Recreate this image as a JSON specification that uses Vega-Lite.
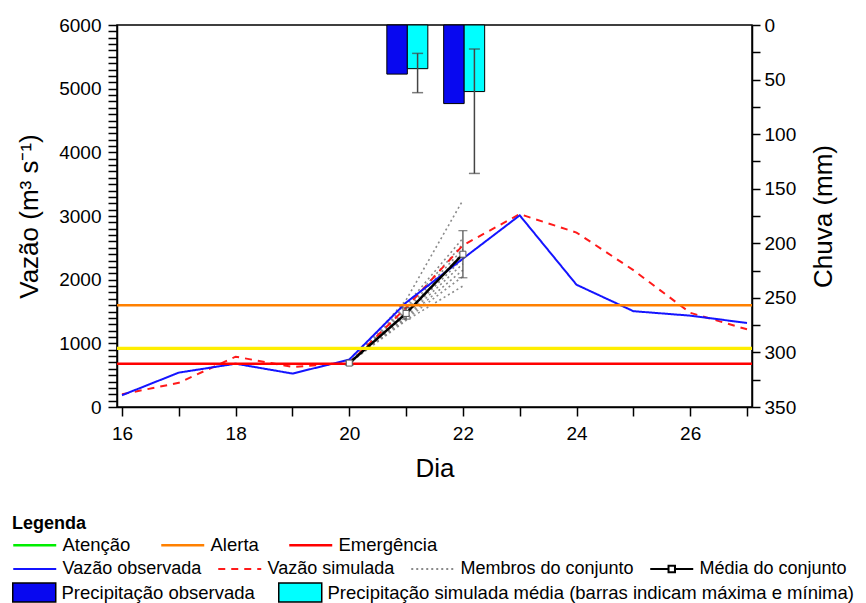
{
  "$schema": "https://vega.github.io/schema/vega-lite/v6.json",
  "width": 635,
  "height": 382,
  "autosize": {"type": "none"},
  "padding": {"left": 117, "top": 25, "right": 114, "bottom": 196},
  "background": "white",
  "datasets": {
    "vazao": [
      {"serie": "Membros do conjunto", "membro": "m1", "dia": 20, "v": 690},
      {"serie": "Membros do conjunto", "membro": "m1", "dia": 21, "v": 1680},
      {"serie": "Membros do conjunto", "membro": "m1", "dia": 22, "v": 3250},
      {"serie": "Membros do conjunto", "membro": "m2", "dia": 20, "v": 690},
      {"serie": "Membros do conjunto", "membro": "m2", "dia": 21, "v": 1600},
      {"serie": "Membros do conjunto", "membro": "m2", "dia": 22, "v": 2650},
      {"serie": "Membros do conjunto", "membro": "m3", "dia": 20, "v": 690},
      {"serie": "Membros do conjunto", "membro": "m3", "dia": 21, "v": 1560},
      {"serie": "Membros do conjunto", "membro": "m3", "dia": 22, "v": 2560},
      {"serie": "Membros do conjunto", "membro": "m4", "dia": 20, "v": 690},
      {"serie": "Membros do conjunto", "membro": "m4", "dia": 21, "v": 1520},
      {"serie": "Membros do conjunto", "membro": "m4", "dia": 22, "v": 2480},
      {"serie": "Membros do conjunto", "membro": "m5", "dia": 20, "v": 690},
      {"serie": "Membros do conjunto", "membro": "m5", "dia": 21, "v": 1480},
      {"serie": "Membros do conjunto", "membro": "m5", "dia": 22, "v": 2420},
      {"serie": "Membros do conjunto", "membro": "m6", "dia": 20, "v": 690},
      {"serie": "Membros do conjunto", "membro": "m6", "dia": 21, "v": 1450},
      {"serie": "Membros do conjunto", "membro": "m6", "dia": 22, "v": 2330},
      {"serie": "Membros do conjunto", "membro": "m7", "dia": 20, "v": 690},
      {"serie": "Membros do conjunto", "membro": "m7", "dia": 21, "v": 1420},
      {"serie": "Membros do conjunto", "membro": "m7", "dia": 22, "v": 2250},
      {"serie": "Membros do conjunto", "membro": "m8", "dia": 20, "v": 690},
      {"serie": "Membros do conjunto", "membro": "m8", "dia": 21, "v": 1400},
      {"serie": "Membros do conjunto", "membro": "m8", "dia": 22, "v": 2150},
      {"serie": "Membros do conjunto", "membro": "m9", "dia": 20, "v": 690},
      {"serie": "Membros do conjunto", "membro": "m9", "dia": 21, "v": 1380},
      {"serie": "Membros do conjunto", "membro": "m9", "dia": 22, "v": 2050},
      {"serie": "Membros do conjunto", "membro": "m10", "dia": 20, "v": 690},
      {"serie": "Membros do conjunto", "membro": "m10", "dia": 21, "v": 1360},
      {"serie": "Membros do conjunto", "membro": "m10", "dia": 22, "v": 1900},
      {"serie": "Vazão simulada", "membro": "sim", "dia": 16, "v": 200},
      {"serie": "Vazão simulada", "membro": "sim", "dia": 17, "v": 380},
      {"serie": "Vazão simulada", "membro": "sim", "dia": 18, "v": 790},
      {"serie": "Vazão simulada", "membro": "sim", "dia": 19, "v": 630},
      {"serie": "Vazão simulada", "membro": "sim", "dia": 20, "v": 690},
      {"serie": "Vazão simulada", "membro": "sim", "dia": 21, "v": 1560},
      {"serie": "Vazão simulada", "membro": "sim", "dia": 22, "v": 2540},
      {"serie": "Vazão simulada", "membro": "sim", "dia": 23, "v": 3030},
      {"serie": "Vazão simulada", "membro": "sim", "dia": 24, "v": 2740},
      {"serie": "Vazão simulada", "membro": "sim", "dia": 25, "v": 2150},
      {"serie": "Vazão simulada", "membro": "sim", "dia": 26, "v": 1480},
      {"serie": "Vazão simulada", "membro": "sim", "dia": 27, "v": 1220},
      {"serie": "Vazão observada", "membro": "obs", "dia": 16, "v": 185},
      {"serie": "Vazão observada", "membro": "obs", "dia": 17, "v": 540},
      {"serie": "Vazão observada", "membro": "obs", "dia": 18, "v": 680},
      {"serie": "Vazão observada", "membro": "obs", "dia": 19, "v": 525},
      {"serie": "Vazão observada", "membro": "obs", "dia": 20, "v": 745},
      {"serie": "Vazão observada", "membro": "obs", "dia": 21, "v": 1640},
      {"serie": "Vazão observada", "membro": "obs", "dia": 22, "v": 2330},
      {"serie": "Vazão observada", "membro": "obs", "dia": 23, "v": 3010},
      {"serie": "Vazão observada", "membro": "obs", "dia": 24, "v": 1920},
      {"serie": "Vazão observada", "membro": "obs", "dia": 25, "v": 1505},
      {"serie": "Vazão observada", "membro": "obs", "dia": 26, "v": 1435},
      {"serie": "Vazão observada", "membro": "obs", "dia": 27, "v": 1320},
      {"serie": "Média do conjunto", "membro": "media", "dia": 20, "v": 690},
      {"serie": "Média do conjunto", "membro": "media", "dia": 21, "v": 1470},
      {"serie": "Média do conjunto", "membro": "media", "dia": 22, "v": 2400}
    ],
    "erro": [
      {"dia": 20, "lo": 660, "hi": 720},
      {"dia": 21, "lo": 1380, "hi": 1560},
      {"dia": 22, "lo": 2030, "hi": 2770}
    ],
    "limiares": [
      {"nome": "Atenção", "v": 920},
      {"nome": "Alerta", "v": 1600},
      {"nome": "Emergência", "v": 680}
    ],
    "chuva": [
      {"serie": "Precipitação observada", "dia": 21, "mm": 45},
      {"serie": "Precipitação observada", "dia": 22, "mm": 72},
      {"serie": "Precipitação simulada média (barras indicam máxima e mínima)", "dia": 21, "mm": 40, "min": 26, "max": 62},
      {"serie": "Precipitação simulada média (barras indicam máxima e mínima)", "dia": 22, "mm": 61, "min": 22, "max": 136}
    ]
  },
  "layer": [
    {
      "encoding": {
        "y": {
          "field": "v", "type": "quantitative", "title": "Vazão (m³ s⁻¹)",
          "scale": {"domain": [0, 6000], "nice": false, "zero": false},
          "axis": {
            "values": [0,100,200,300,400,500,600,700,800,900,1000,1100,1200,1300,1400,1500,1600,1700,1800,1900,2000,2100,2200,2300,2400,2500,2600,2700,2800,2900,3000,3100,3200,3300,3400,3500,3600,3700,3800,3900,4000,4100,4200,4300,4400,4500,4600,4700,4800,4900,5000,5100,5200,5300,5400,5500,5600,5700,5800,5900,6000],
            "labelExpr": "datum.value % 1000 === 0 ? datum.value : ''",
            "tickSize": 9, "labelPadding": 7, "titlePadding": 16, "labelFlush": false, "grid": false,
            "encode": {"ticks": {"update": {"x2": {"signal": "datum.value % 1000 === 0 ? -9 : -5"}}}}
          }
        }
      },
      "layer": [
        {
          "data": {"name": "vazao"},
          "encoding": {
            "x": {
              "field": "dia", "type": "quantitative", "title": "Dia",
              "scale": {"domain": [16, 27], "nice": false, "zero": false},
              "axis": {
                "values": [16, 17, 18, 19, 20, 21, 22, 23, 24, 25, 26, 27],
                "labelExpr": "datum.value % 2 === 0 ? datum.value : ''",
                "tickSize": 9, "labelPadding": 8, "titlePadding": 12, "labelFlush": false, "grid": false,
                "encode": {"ticks": {"update": {"y2": {"signal": "datum.value % 2 === 0 ? 9 : 6"}}}}
              }
            },
            "detail": {"field": "membro", "type": "nominal"},
            "color": {
              "field": "serie", "type": "nominal",
              "scale": {"domain": ["Vazão observada", "Vazão simulada", "Membros do conjunto", "Média do conjunto"], "range": ["#1414ff", "#ff1a1a", "#8a8a8a", "#000000"]},
              "legend": {
                "title": null, "orient": "none", "legendX": -105, "legendY": 532,
                "direction": "horizontal", "columnPadding": 12,
                "symbolType": "M-1,0H3", "symbolSize": 462, "symbolStrokeWidth": 2, "labelOffset": 26.5,
                "encode": {"symbols": {"update": {"fill": {"value": "white"}, "shape": {"signal": "datum.value === 'Média do conjunto' ? 'M-1,0H0.7M1.3,0H3M0.7,-0.3H1.3V0.3H0.7Z' : 'M-1,0H3'"}}}}
              }
            },
            "strokeDash": {
              "field": "serie", "type": "nominal",
              "scale": {"domain": ["Vazão observada", "Vazão simulada", "Membros do conjunto", "Média do conjunto"], "range": [[1, 0], [7, 6], [2, 3], [1, 0]]},
              "legend": {
                "title": null, "orient": "none", "legendX": -105, "legendY": 532,
                "direction": "horizontal", "columnPadding": 12,
                "symbolType": "M-1,0H3", "symbolSize": 462, "symbolStrokeWidth": 2, "labelOffset": 26.5,
                "encode": {"symbols": {"update": {"fill": {"value": "white"}, "shape": {"signal": "datum.value === 'Média do conjunto' ? 'M-1,0H0.7M1.3,0H3M0.7,-0.3H1.3V0.3H0.7Z' : 'M-1,0H3'"}}}}
              }
            }
          },
          "layer": [
            {"transform": [{"filter": "datum.serie === 'Membros do conjunto'"}], "mark": {"type": "line", "strokeWidth": 1.6}},
            {"transform": [{"filter": "datum.serie === 'Vazão simulada'"}], "mark": {"type": "line", "strokeWidth": 2}},
            {"transform": [{"filter": "datum.serie === 'Vazão observada'"}], "mark": {"type": "line", "strokeWidth": 2}},
            {"transform": [{"filter": "datum.serie === 'Média do conjunto'"}], "mark": {"type": "line", "strokeWidth": 2.5}}
          ]
        },
        {
          "data": {"name": "limiares"},
          "mark": {"type": "rule", "strokeWidth": 2.5},
          "encoding": {
            "stroke": {
              "field": "nome", "type": "nominal",
              "scale": {"domain": ["Atenção", "Alerta", "Emergência"], "range": ["#00ee00", "#ff8000", "#ff0000"]},
              "legend": {
                "title": "Legenda", "orient": "none", "legendX": -105, "legendY": 490,
                "direction": "horizontal", "columnPadding": 25, "labelFontSize": 18.5,
                "symbolType": "M-1,0H3", "symbolSize": 462, "symbolStrokeWidth": 2.5, "labelOffset": 26.5
              }
            }
          }
        },
        {
          "data": {"name": "limiares"},
          "transform": [{"filter": "datum.nome === 'Atenção'"}],
          "mark": {"type": "rule", "strokeWidth": 3.2, "color": "#ffee00"}
        },
        {
          "data": {"name": "erro"},
          "mark": {"type": "rule", "color": "#555555", "strokeWidth": 1.3},
          "encoding": {
            "x": {"field": "dia", "type": "quantitative", "title": "Dia", "scale": {"domain": [16, 27], "nice": false, "zero": false}},
            "y": {"field": "lo", "type": "quantitative", "title": "Vazão (m³ s⁻¹)"},
            "y2": {"field": "hi"}
          }
        },
        {
          "data": {"name": "erro"},
          "mark": {"type": "tick", "orient": "horizontal", "color": "#555555", "size": 9, "thickness": 1.3},
          "encoding": {
            "x": {"field": "dia", "type": "quantitative", "title": "Dia", "scale": {"domain": [16, 27], "nice": false, "zero": false}},
            "y": {"field": "lo", "type": "quantitative", "title": "Vazão (m³ s⁻¹)"}
          }
        },
        {
          "data": {"name": "erro"},
          "mark": {"type": "tick", "orient": "horizontal", "color": "#555555", "size": 9, "thickness": 1.3},
          "encoding": {
            "x": {"field": "dia", "type": "quantitative", "title": "Dia", "scale": {"domain": [16, 27], "nice": false, "zero": false}},
            "y": {"field": "hi", "type": "quantitative", "title": "Vazão (m³ s⁻¹)"}
          }
        },
        {
          "data": {"name": "vazao"},
          "transform": [{"filter": "datum.serie === 'Média do conjunto'"}],
          "mark": {"type": "point", "shape": "square", "filled": true, "fill": "white", "stroke": "#555555", "strokeWidth": 1, "size": 36, "opacity": 1},
          "encoding": {
            "x": {"field": "dia", "type": "quantitative", "title": "Dia", "scale": {"domain": [16, 27], "nice": false, "zero": false}}
          }
        }
      ]
    },
    {
      "data": {"name": "chuva"},
      "encoding": {
        "x": {"field": "dia", "type": "quantitative", "title": "Dia", "scale": {"domain": [16, 27], "nice": false, "zero": false}},
        "y": {
          "field": "mm", "type": "quantitative", "title": "Chuva (mm)",
          "scale": {"domain": [0, 350], "reverse": true, "nice": false, "zero": false},
          "axis": {
            "orient": "right",
            "values": [0, 25, 50, 75, 100, 125, 150, 175, 200, 225, 250, 275, 300, 325, 350],
            "labelExpr": "datum.value % 50 === 0 ? datum.value : ''",
            "tickSize": 8, "labelPadding": 4, "titlePadding": 41, "titleAngle": 270, "labelFlush": false, "grid": false,
            "encode": {"ticks": {"update": {"x2": {"value": -10}}}}
          }
        }
      },
      "layer": [
        {
          "transform": [{"filter": "datum.serie === 'Precipitação observada'"}],
          "mark": {"type": "bar", "width": 20.5, "xOffset": -9, "stroke": "black", "strokeWidth": 1},
          "encoding": {
            "y2": {"datum": 0},
            "fill": {
              "field": "serie", "type": "nominal",
              "scale": {"domain": ["Precipitação observada", "Precipitação simulada média (barras indicam máxima e mínima)"], "range": ["#0808f0", "#00ffff"]},
              "legend": {
                "title": null, "orient": "none", "legendX": -105, "legendY": 556,
                "direction": "horizontal", "columnPadding": 20, "labelFontSize": 18.5,
                "symbolType": "M-1,-0.88H3V0.88H-1Z", "symbolSize": 462, "symbolStrokeWidth": 1.5, "labelOffset": 26.5,
                "encode": {"symbols": {"update": {"stroke": {"value": "black"}, "strokeWidth": {"value": 1.5}}}}
              }
            }
          }
        },
        {
          "transform": [{"filter": "datum.serie !== 'Precipitação observada'"}],
          "mark": {"type": "bar", "width": 20.5, "xOffset": 11.5, "stroke": "black", "strokeWidth": 1},
          "encoding": {
            "y2": {"datum": 0},
            "fill": {
              "field": "serie", "type": "nominal",
              "scale": {"domain": ["Precipitação observada", "Precipitação simulada média (barras indicam máxima e mínima)"], "range": ["#0808f0", "#00ffff"]}
            }
          }
        },
        {
          "transform": [{"filter": "datum.serie !== 'Precipitação observada'"}],
          "mark": {"type": "rule", "xOffset": 11.5, "color": "#444444", "strokeWidth": 1.5},
          "encoding": {
            "y": {"field": "min", "type": "quantitative", "title": "Chuva (mm)"},
            "y2": {"field": "max"}
          }
        },
        {
          "transform": [{"filter": "datum.serie !== 'Precipitação observada'"}],
          "mark": {"type": "tick", "orient": "horizontal", "xOffset": 11.5, "color": "#444444", "size": 11, "thickness": 1.5},
          "encoding": {"y": {"field": "min", "type": "quantitative", "title": "Chuva (mm)"}}
        },
        {
          "transform": [{"filter": "datum.serie !== 'Precipitação observada'"}],
          "mark": {"type": "tick", "orient": "horizontal", "xOffset": 11.5, "color": "#444444", "size": 11, "thickness": 1.5},
          "encoding": {"y": {"field": "max", "type": "quantitative", "title": "Chuva (mm)"}}
        }
      ]
    }
  ],
  "resolve": {"scale": {"y": "independent"}},
  "config": {
    "view": {"stroke": "black", "strokeWidth": 1.5},
    "font": "Liberation Sans",
    "axis": {
      "labelFont": "Liberation Sans", "labelFontSize": 19, "labelColor": "black",
      "titleFont": "Liberation Sans", "titleFontSize": 26, "titleFontWeight": "normal", "titleColor": "black",
      "domainColor": "black", "domainWidth": 1.5, "tickColor": "black", "tickWidth": 1.5
    },
    "legend": {
      "labelFont": "Liberation Sans", "labelFontSize": 18, "labelColor": "black", "labelLimit": 1000,
      "padding": 0, "rowPadding": 0,
      "titleFont": "Liberation Sans", "titleFontSize": 18, "titleFontWeight": "bold", "titleColor": "black",
      "titlePadding": 0, "titleLimit": 500
    }
  }
}
